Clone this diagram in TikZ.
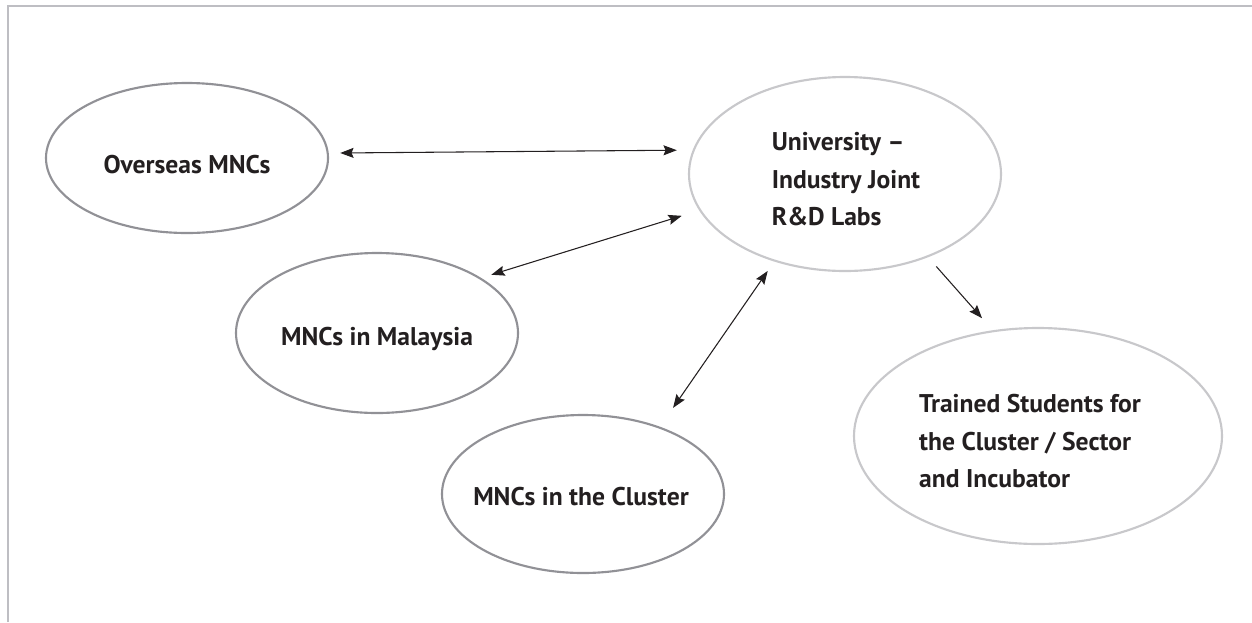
\documentclass[tikz,border=0pt]{standalone}
\usepackage{fontspec}
\setmainfont{PT Sans}
\usetikzlibrary{arrows.meta,shapes.geometric}

\definecolor{framegray}{RGB}{190,190,195}
\definecolor{darkoval}{RGB}{145,145,150}
\definecolor{lightoval}{RGB}{200,200,203}
\definecolor{inkblack}{RGB}{35,31,32}

\tikzset{every picture/.style={line width=0.75pt}}
\tikzset{
  oval/.style={ellipse, draw=#1, line width=1.6pt, inner sep=0pt, outer sep=0pt},
  lbl/.style={anchor=north, inner sep=0pt, align=left, text=inkblack,
    font=\fontsize{19.2}{28}\selectfont\bfseries},
  link/.style={line width=0.8pt, color=inkblack, {Stealth[length=10pt,width=7.5pt,inset=1.5pt]}-{Stealth[length=10pt,width=7.5pt,inset=1.5pt]}},
  onelink/.style={line width=0.8pt, color=inkblack, -{Stealth[length=10pt,width=7.5pt,inset=1.5pt]}}
}

\begin{document}
\begin{tikzpicture}[x=0.75pt,y=0.75pt,yscale=-1,xscale=1]
\path[use as bounding box] (0,0) rectangle (1252,622);

%Frame
\draw [framegray, line width=2.1pt] (8,622) -- (8,6) -- (1252,6) ;

%Ovals
\node [oval=darkoval, minimum width=211.5pt, minimum height=112.5pt] (ovs) at (187,158) {};
\node [oval=lightoval, minimum width=234pt, minimum height=145.5pt] (uni) at (845,174) {};
\node [oval=darkoval, minimum width=211.5pt, minimum height=120pt] (mal) at (377,333) {};
\node [oval=darkoval, minimum width=211.5pt, minimum height=118.5pt] (clu) at (583,494) {};
\node [oval=lightoval, minimum width=276pt, minimum height=162pt] (trn) at (1038,436) {};

% Text Nodes
\node [lbl] (ovs-t) at (187,155) {Overseas MNCs};
\node [lbl] (uni-t) at (846,132) {University –\\Industry Joint\\R\&D Labs};
\node [lbl] (mal-t) at (377,327) {MNCs in Malaysia};
\node [lbl] (clu-t) at (581,487) {MNCs in the Cluster};
\node [lbl] (trn-t) at (1030,394) {Trained Students for\\the Cluster / Sector\\and Incubator};

%Arrows
\draw [link, shorten <=9.4pt, shorten >=12.75pt] (ovs.2.4) -- (uni.171.8) ;
\draw [link, shorten <=9pt, shorten >=14.5pt] (mal.28.7) -- (uni.194.2) ;
\draw [link, shorten <=18pt, shorten >=9.4pt] (clu.41) -- (uni.231.1) ;
\draw [onelink, shorten <=10.1pt, shorten >=13pt] (uni.315.9) -- (trn.113.1) ;
\end{tikzpicture}
\end{document}
